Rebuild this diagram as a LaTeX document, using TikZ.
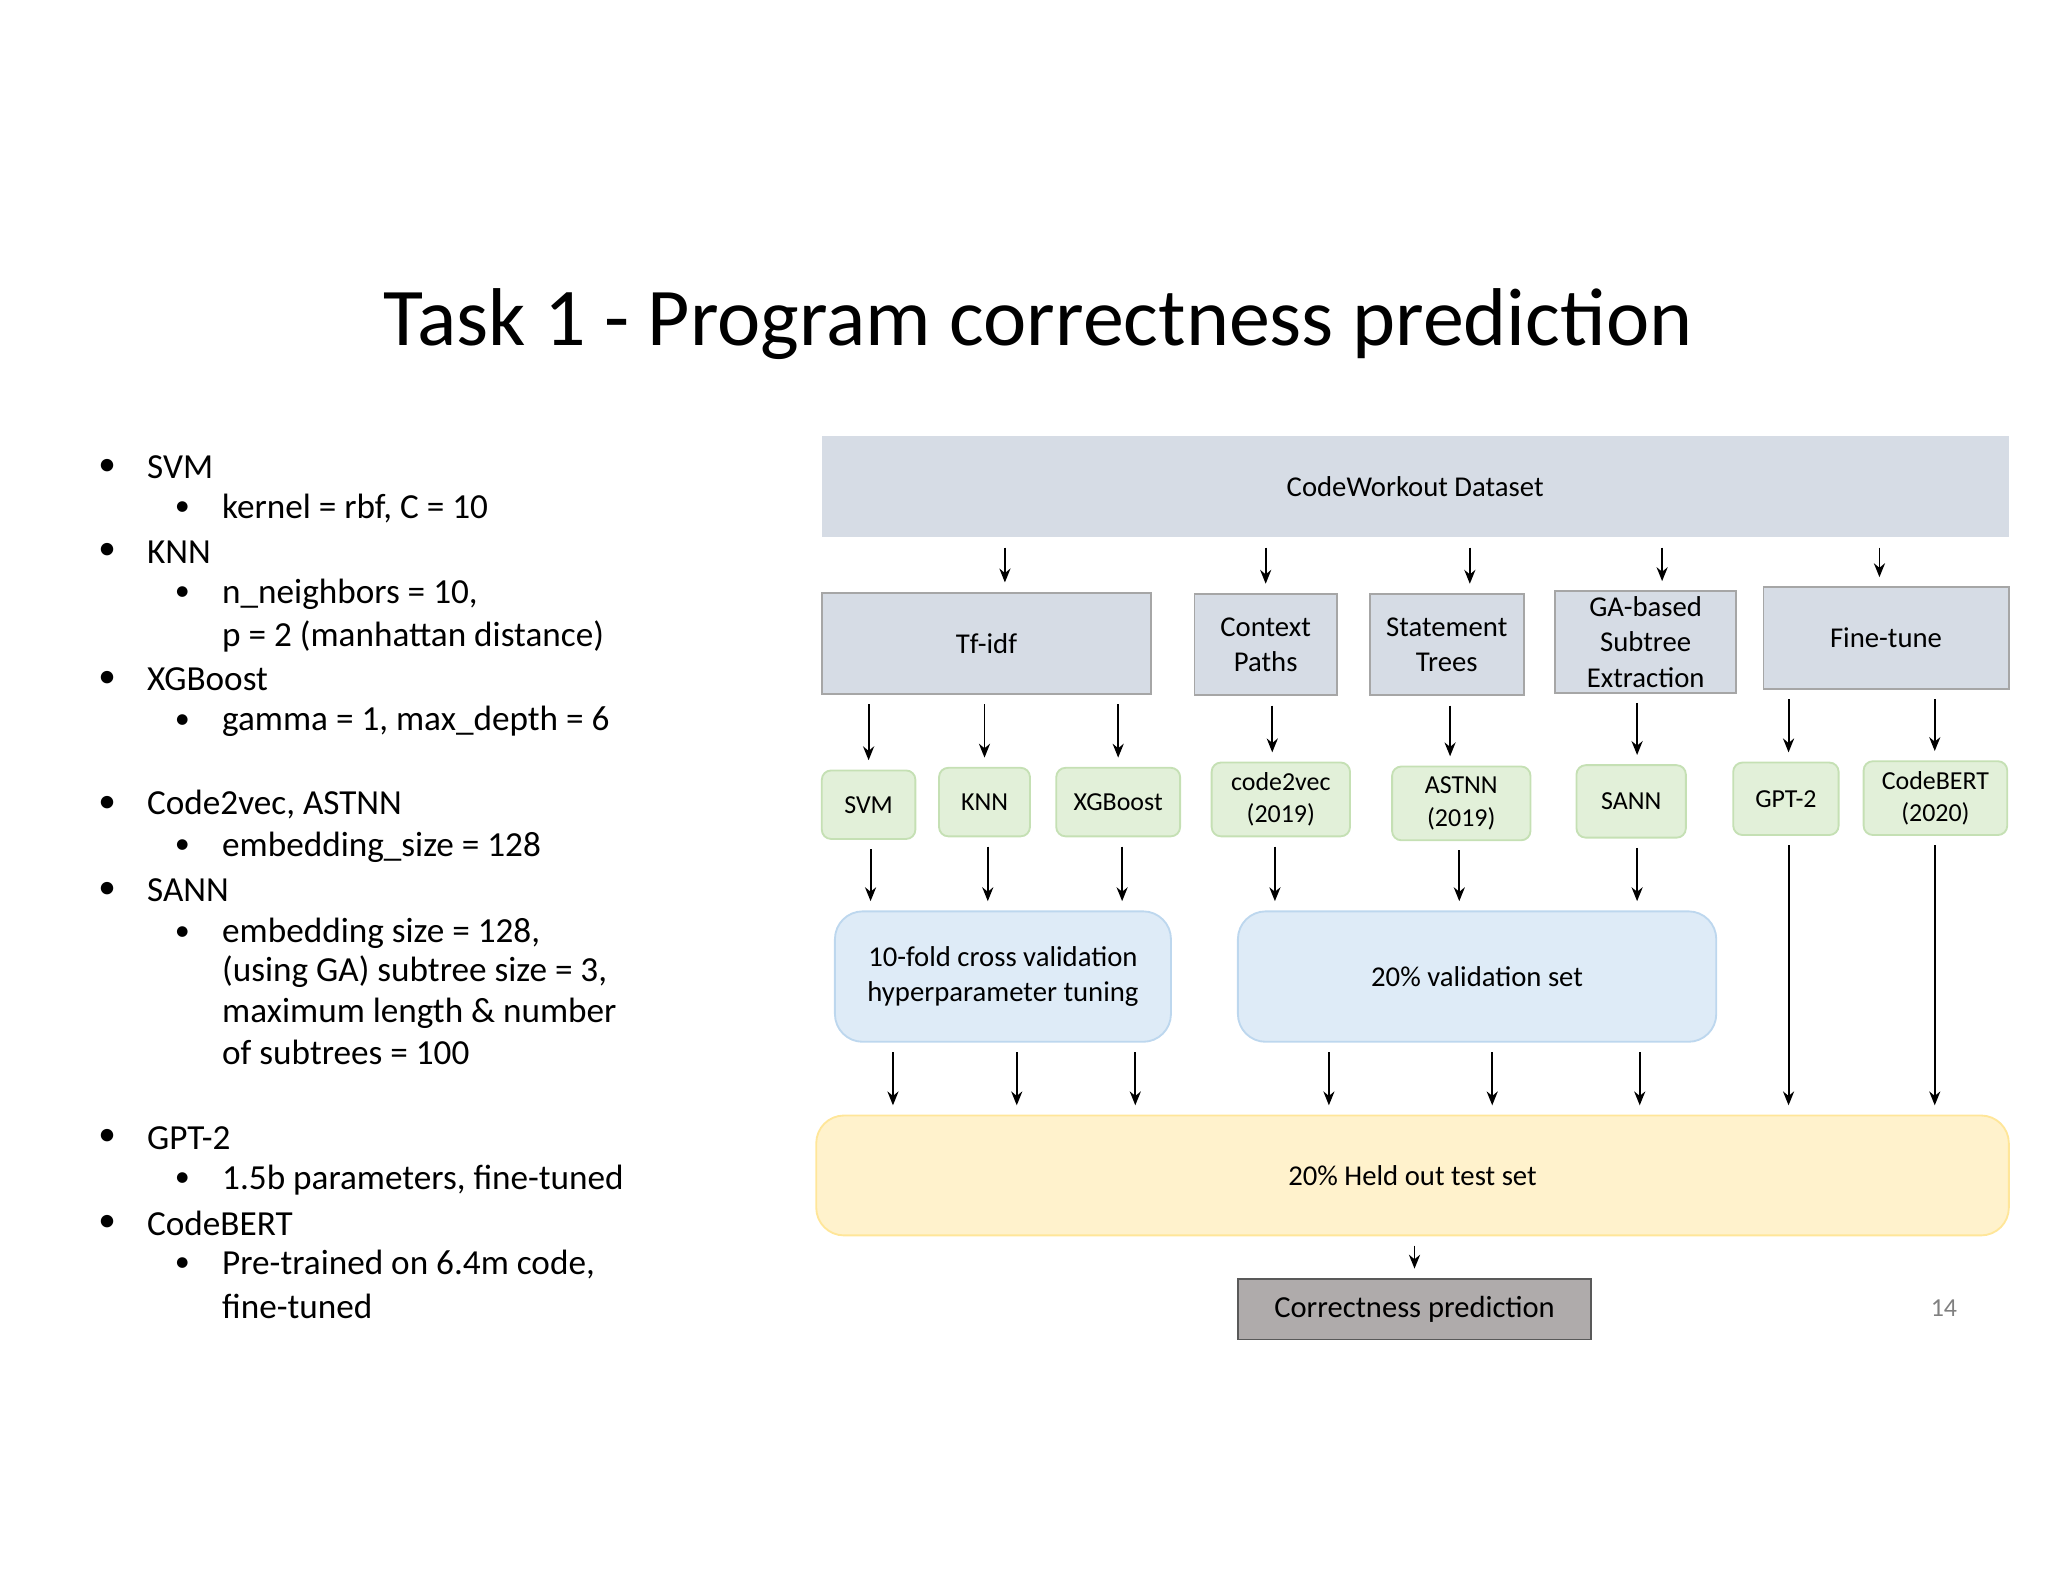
\documentclass[tikz,border=0pt]{standalone}
\usepackage{fontspec}
\setmainfont{Carlito}
\usetikzlibrary{arrows.meta}
\definecolor{boxgray}{HTML}{D6DCE5}
\definecolor{boxline}{HTML}{A6A6A6}
\definecolor{mgreen}{HTML}{E2F0D9}
\definecolor{mgreenl}{HTML}{C5E0B4}
\definecolor{vblue}{HTML}{DEEBF7}
\definecolor{vbluel}{HTML}{BDD7EE}
\definecolor{tyellow}{HTML}{FFF2CC}
\definecolor{tyellowl}{HTML}{FFE699}
\definecolor{outgray}{HTML}{AFABAB}
\begin{document}
\begin{tikzpicture}[x=0.01cm,y=-0.01cm,
    every node/.style={inner sep=0pt,align=center},
    stage/.style={fill=boxgray,draw=boxline,font=\fontsize{6.2}{7.6}\selectfont},
    model/.style={fill=mgreen,draw=mgreenl,rounded corners=2pt,font=\fontsize{5.6}{7}\selectfont},
    valid/.style={fill=vblue,draw=vbluel,rounded corners=6pt,font=\fontsize{6.2}{7.6}\selectfont},
    arr/.style={-{Stealth[length=3pt,width=2.4pt]},thin,shorten >=2pt,shorten <=2pt},
    item/.style={anchor=west,align=left,font=\fontsize{7.6}{9.2}\selectfont}]
    \useasboundingbox (0,0) rectangle (1555,1201);

    \node(title)[font=\fontsize{17.7}{20}\selectfont] at (788,246) {Task 1 - Program correctness prediction};

    % left column
    \foreach \lvl/\y/\t in {1/355/SVM, 2/386/{kernel = rbf, C = 10}, 1/419/KNN,
        2/451/{n\_neighbors = 10,}, 0/483/{p = 2 (manhattan distance)}, 1/516/XGBoost,
        2/548/{gamma = 1, max\_depth = 6}, 1/611/{Code2vec, ASTNN}, 2/643/{embedding\_size = 128},
        1/676/SANN, 2/709/{embedding size = 128,}, 0/738/{(using GA) subtree size = 3,},
        0/769/{maximum length \& number}, 0/799/{of subtrees = 100}, 1/864/GPT-2,
        2/896/{1.5b parameters, fine-tuned}, 1/929/CodeBERT, 2/960/{Pre-trained on 6.4m code,},
        0/992/fine-tuned} {
      \ifnum\lvl=1
        \node[item] at (74,\y) {\textbullet};
        \node(l\y)[item] at (111,\y) {\t};
      \else
        \ifnum\lvl=2 \node[item,font=\fontsize{6.5}{8}\selectfont] at (132,\y) {\textbullet}; \fi
        \node(l\y)[item] at (168,\y) {\t};
      \fi
    }

    % diagram
    \node(data)[stage,draw=none,minimum width=9.01cm,minimum height=0.77cm] at (1074.5,369.5) {CodeWorkout Dataset};
    \node(tfidf)[stage,minimum width=2.5cm,minimum height=0.77cm] at (749,488.5) {Tf-idf};
    \node(ctx)[stage,minimum width=1.08cm,minimum height=0.77cm] at (961,489.5) {Context\\Paths};
    \node(stmt)[stage,minimum width=1.17cm,minimum height=0.77cm] at (1098.5,489.5) {Statement\\Trees};
    \node(ga)[stage,minimum width=1.37cm,minimum height=0.77cm] at (1249.5,487.5) {GA-based\\Subtree\\Extraction};
    \node(ft)[stage,minimum width=1.86cm,minimum height=0.77cm] at (1432,484.5) {Fine-tune};

    \node(svm)[model,minimum width=0.71cm,minimum height=0.52cm] at (659.5,611) {SVM};
    \node(knn)[model,minimum width=0.69cm,minimum height=0.52cm] at (747.5,609) {KNN};
    \node(xgb)[model,minimum width=0.94cm,minimum height=0.52cm] at (849,609) {XGBoost};
    \node(c2v)[model,minimum width=1.05cm,minimum height=0.56cm] at (972.5,607) {code2vec\\(2019)};
    \node(astnn)[model,minimum width=1.05cm,minimum height=0.56cm] at (1109.5,610) {ASTNN\\(2019)};
    \node(sann)[model,minimum width=0.83cm,minimum height=0.55cm] at (1238.5,608.5) {SANN};
    \node(gpt)[model,minimum width=0.8cm,minimum height=0.55cm] at (1356,606.5) {GPT-2};
    \node(bert)[model,minimum width=1.09cm,minimum height=0.56cm] at (1469.5,606) {CodeBERT\\(2020)};

    \node(cv)[valid,minimum width=2.55cm,minimum height=0.99cm] at (761.5,741.5) {10-fold cross validation\\hyperparameter tuning};
    \node(val)[valid,minimum width=3.63cm,minimum height=0.99cm] at (1121.5,741.5) {20\% validation set};

    \node(test)[fill=tyellow,draw=tyellowl,rounded corners=6pt,minimum width=9.05cm,minimum height=0.91cm,
      font=\fontsize{6.2}{7.6}\selectfont] at (1072.5,892.5) {20\% Held out test set};
    \node(out)[fill=outgray,draw=gray!70!black,minimum width=2.68cm,minimum height=0.46cm,
      font=\fontsize{6.6}{8}\selectfont] at (1074,994) {Correctness prediction};
    \node(page)[text=gray,font=\fontsize{5.6}{7}\selectfont] at (1476,993) {14};

    \draw[arr] (data.south -| 763,0) -- (tfidf.north -| 763,0);
    \draw[arr] (data.south -| ctx) -- (ctx.north);
    \draw[arr] (data.south -| 1116,0) -- (stmt.north -| 1116,0);
    \draw[arr] (data.south -| 1262,0) -- (ga.north -| 1262,0);
    \draw[arr] (data.south -| 1427,0) -- (ft.north -| 1427,0);

    \draw[arr] (tfidf.south -| svm) -- (svm.north);
    \draw[arr] (tfidf.south -| knn) -- (knn.north);
    \draw[arr] (tfidf.south -| xgb) -- (xgb.north);
    \draw[arr] (ctx.south -| 966,0) -- (c2v.north -| 966,0);
    \draw[arr] (stmt.south -| 1101,0) -- (astnn.north -| 1101,0);
    \draw[arr] (ga.south -| 1243,0) -- (sann.north -| 1243,0);
    \draw[arr] (ft.south -| 1358,0) -- (gpt.north -| 1358,0);
    \draw[arr] (ft.south -| 1469,0) -- (bert.north -| 1469,0);

    \draw[arr] (svm.south -| 661,0) -- (cv.north -| 661,0);
    \draw[arr] (knn.south -| 750,0) -- (cv.north -| 750,0);
    \draw[arr] (xgb.south -| 852,0) -- (cv.north -| 852,0);
    \draw[arr] (c2v.south -| 968,0) -- (val.north -| 968,0);
    \draw[arr] (astnn.south -| 1108,0) -- (val.north -| 1108,0);
    \draw[arr] (sann.south -| 1243,0) -- (val.north -| 1243,0);

    \foreach \x in {678,772,862} \draw[arr] (cv.south -| \x,0) -- (test.north -| \x,0);
    \foreach \x in {1009,1133,1245} \draw[arr] (val.south -| \x,0) -- (test.north -| \x,0);
    \draw[arr] (gpt.south -| 1358,0) -- (test.north -| 1358,0);
    \draw[arr] (bert.south -| 1469,0) -- (test.north -| 1469,0);
    \draw[arr] (test.south -| out) -- (out.north);
\end{tikzpicture}
\end{document}
